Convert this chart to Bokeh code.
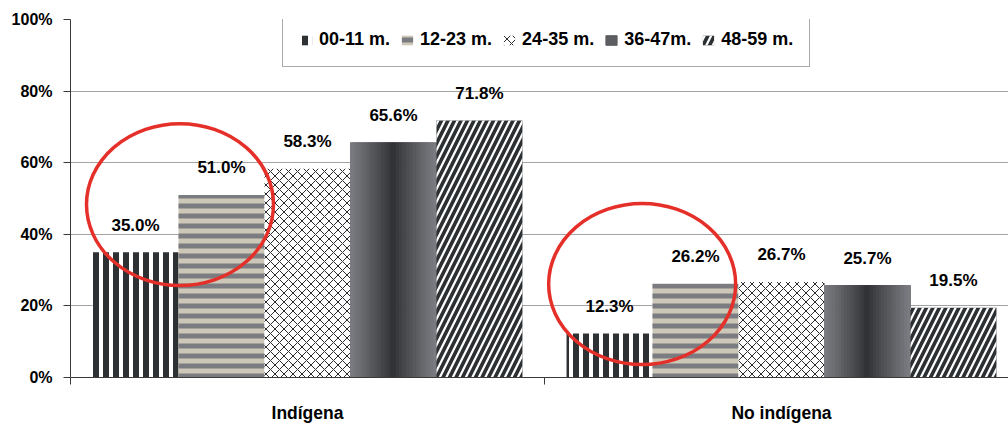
import numpy as np
from bokeh.plotting import figure
from bokeh.models import (Range1d, FixedTicker, Legend, LegendItem, ColumnDataSource)
from bokeh.core.properties import value
from bokeh.embed import file_html
from bokeh.resources import INLINE

# ---------------- data ----------------
categories = ["Indígena", "No indígena"]
series = ["00-11 m.", "12-23 m.", "24-35 m.", "36-47m.", "48-59 m."]
vals_00_11 = [35.0, 12.3]
vals_12_23 = [51.0, 26.2]
vals_24_35 = [58.3, 26.7]
vals_36_47 = [65.6, 25.7]
vals_48_59 = [71.8, 19.5]
y_ticks = [0, 20, 40, 60, 80, 100]
y_tick_labels = ["0%", "20%", "40%", "60%", "80%", "100%"]
# highlighted regions (red ellipses), in data units
ellipse_cx = [0.231, 1.206]
ellipse_cy = [48.3, 26.1]
ellipse_w = [0.3945, 0.3945]
ellipse_h = [45.2, 45.0]

FONT = "Liberation Sans"
all_vals = [vals_00_11, vals_12_23, vals_24_35, vals_36_47, vals_48_59]

# ---------------- figure ----------------
FRAME_W = 938
CAT_PX = 474
p = figure(width=1008, height=425, output_backend="svg", toolbar_location=None,
           x_range=Range1d(0, FRAME_W / CAT_PX), y_range=Range1d(0, 100),
           min_border_left=70, min_border_right=0, min_border_top=19,
           min_border_bottom=48, outline_line_color=None,
           background_fill_color="white", border_fill_color="white")

bw = 0.1814
n = len(series)
xs = [[g + 0.5 + (i - (n - 1) / 2) * bw for g in range(len(categories))] for i in range(n)]

r1 = p.vbar(x=xs[0], top=vals_00_11, width=bw, fill_color="white", line_color=None,
            hatch_pattern="|", hatch_color="#2d3134", hatch_scale=10, hatch_weight=6)
r2 = p.vbar(x=xs[1], top=vals_12_23, width=bw, fill_color="#cdc7b8", line_color=None,
            hatch_pattern="-", hatch_color="#7b7c81", hatch_scale=10, hatch_weight=5)
r3 = p.vbar(x=xs[2], top=vals_24_35, width=bw, fill_color="white", line_color=None,
            hatch_pattern="x", hatch_color="#2a2a2a", hatch_scale=9, hatch_weight=1)

# gradient bar (metallic look) built from thin slices sharing the bar's value
NS = 30
light = np.array([124, 125, 130])
dark = np.array([46, 48, 51])
gx, gt, gc = [], [], []
for j, xc in enumerate(xs[3]):
    for k in range(NS):
        t = (k + 0.5) / NS
        f = min(1.0, abs(t - 0.5) / 0.5) ** 0.9
        c = dark + (light - dark) * f
        gx.append(xc - bw / 2 + (k + 0.5) * bw / NS)
        gt.append(vals_36_47[j])
        gc.append("#%02x%02x%02x" % tuple(int(round(v)) for v in c))
gsrc = ColumnDataSource(dict(x=gx, top=gt, color=gc))
r4 = p.vbar(x="x", top="top", width=bw / NS, source=gsrc, fill_color="color",
            line_color="color", line_width=1)

r5 = p.vbar(x=xs[4], top=vals_48_59, width=bw, fill_color="#2d3033", line_color=None,
            hatch_pattern="/", hatch_color="white", hatch_scale=13, hatch_weight=2.2)

# value labels
lx = [x for row in xs for x in row]
ly = [v for row in all_vals for v in row]
lt = ["%.1f%%" % v for v in ly]
p.text(x=lx, y=ly, text=lt, text_align="center", text_baseline="alphabetic",
       y_offset=-27, text_font=value(FONT), text_font_style="bold",
       text_font_size="17px", text_color="black")

# red ellipses
p.ellipse(x=ellipse_cx, y=ellipse_cy, width=ellipse_w, height=ellipse_h,
          fill_color=None, line_color="#e5302a", line_width=3.5)

# ---------------- axes ----------------
p.ygrid.ticker = FixedTicker(ticks=y_ticks[1:])
p.ygrid.grid_line_color = "#a3a3a3"
p.xgrid.visible = False

ya = p.yaxis[0]
ya.ticker = FixedTicker(ticks=y_ticks)
ya.major_label_overrides = {t: l for t, l in zip(y_ticks, y_tick_labels)}
ya.major_label_text_font = FONT
ya.major_label_text_font_style = "bold"
ya.major_label_text_font_size = "16px"
ya.major_label_text_color = "black"
ya.major_label_standoff = 11
ya.major_tick_out = 7
ya.major_tick_in = 0
ya.minor_tick_line_color = None
ya.axis_line_color = "#3a3a3a"
ya.major_tick_line_color = "#3a3a3a"

# category labels at group centres, category boundaries as (minor) tick marks
xa = p.xaxis[0]
xa.ticker = FixedTicker(ticks=[0.5, 1.5], minor_ticks=[0, 1, 2])
xa.major_label_overrides = {0.5: categories[0], 1.5: categories[1]}
xa.major_tick_line_color = None
xa.major_tick_out = 0
xa.major_tick_in = 0
xa.minor_tick_out = 7
xa.minor_tick_in = 0
xa.minor_tick_line_color = "#3a3a3a"
xa.axis_line_color = "#3a3a3a"
xa.major_label_standoff = 18
xa.major_label_text_font = FONT
xa.major_label_text_font_style = "bold"
xa.major_label_text_font_size = "17.5px"
xa.major_label_text_color = "black"

# ---------------- legend ----------------
items = [LegendItem(label=series[0], renderers=[r1]),
         LegendItem(label=series[1], renderers=[r2]),
         LegendItem(label=series[2], renderers=[r3]),
         LegendItem(label=series[3], renderers=[r4], index=6),
         LegendItem(label=series[4], renderers=[r5])]
legend = Legend(items=items, orientation="horizontal", location=(212, 310),
                label_text_font=FONT, label_text_font_style="bold",
                label_text_font_size="18px", label_text_color="black",
                glyph_width=14, glyph_height=12, label_standoff=6, spacing=10,
                padding=16, margin=0, border_line_color="#555555",
                border_line_width=1, background_fill_color="white",
                background_fill_alpha=1.0)
p.add_layout(legend)

open("out.html", "w").write(file_html(p, INLINE))
